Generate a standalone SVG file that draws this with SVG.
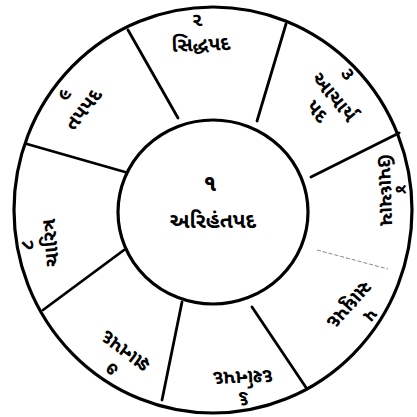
<svg xmlns="http://www.w3.org/2000/svg" width="417" height="417" viewBox="0 0 417 417">
<style>
.ring{fill:none;stroke:#000;stroke-width:3.2}
.sp{stroke:#000;stroke-width:2.8;stroke-linecap:round}
.dash{stroke:#888;stroke-width:1;stroke-dasharray:4 2}
text{font-family:"Noto Sans Gujarati","Lohit Gujarati","Noto Sans",sans-serif;fill:#000;text-anchor:middle;font-weight:bold}
.lb{font-size:20px}
.nm{font-size:19px}
</style>
<rect width="417" height="417" fill="#fff"/>
<g id="rings">
<ellipse class="ring" cx="213" cy="210" rx="199" ry="203"/>
<ellipse class="ring" cx="213" cy="212" rx="95" ry="92"/>
</g>
<g id="connectors">
<line class="sp" x1="128" y1="30" x2="178" y2="118"/>
<line class="sp" x1="286" y1="24" x2="257" y2="121"/>
<line class="sp" x1="399" y1="133" x2="311" y2="177"/>
<line class="dash" x1="317" y1="250" x2="388" y2="269"/>
<line class="sp" x1="252" y1="307" x2="307" y2="389"/>
<line class="sp" x1="182" y1="302" x2="162" y2="400"/>
<line class="sp" x1="124" y1="250" x2="43" y2="310"/>
<line class="sp" x1="27" y1="144" x2="125" y2="172"/>
</g>
<g id="n1"><text x="210" y="191" style="font-size:23px">૧</text><text class="lb" x="213" y="228" style="font-size:21px">અરિહંતપદ</text></g>
<g id="n2" transform="translate(201,44) rotate(-2)"><text class="nm" x="-3" y="-18">૨</text><text class="lb" x="0" y="7">સિદ્ધપદ</text></g>
<g id="n3" transform="translate(333,98) rotate(50)"><text class="nm" x="-9" y="-21">૩</text><text class="lb" x="0" y="5">આચાર્ય</text><text class="lb" x="0" y="27">પદ</text></g>
<g id="n4" transform="translate(386,190) rotate(88)"><text class="nm" x="0" y="-10" style="font-size:17px">૪</text><text class="lb" x="0" y="7">ઉપાધ્યાય</text></g>
<g id="n5" transform="translate(350,305) rotate(132)"><text class="nm" x="-6" y="-16">૫</text><text class="lb" x="0" y="7">સાધુપદ</text></g>
<g id="n6" transform="translate(243,378) rotate(178)"><text class="nm" x="0" y="-16">૬</text><text class="lb" x="0" y="7">દર્શનપદ</text></g>
<g id="n7" transform="translate(125,352) rotate(-143)"><text class="nm" x="0" y="-16">૭</text><text class="lb" x="0" y="7">જ્ઞાનપદ</text></g>
<g id="n8" transform="translate(50,243) rotate(-95)"><text class="nm" x="0" y="-17">૮</text><text class="lb" x="0" y="7">ચારિત્ર</text></g>
<g id="n9" transform="translate(83,109) rotate(-52)"><text class="nm" x="0" y="-18">૯</text><text class="lb" x="0" y="7">તપપદ</text></g>
</svg>
